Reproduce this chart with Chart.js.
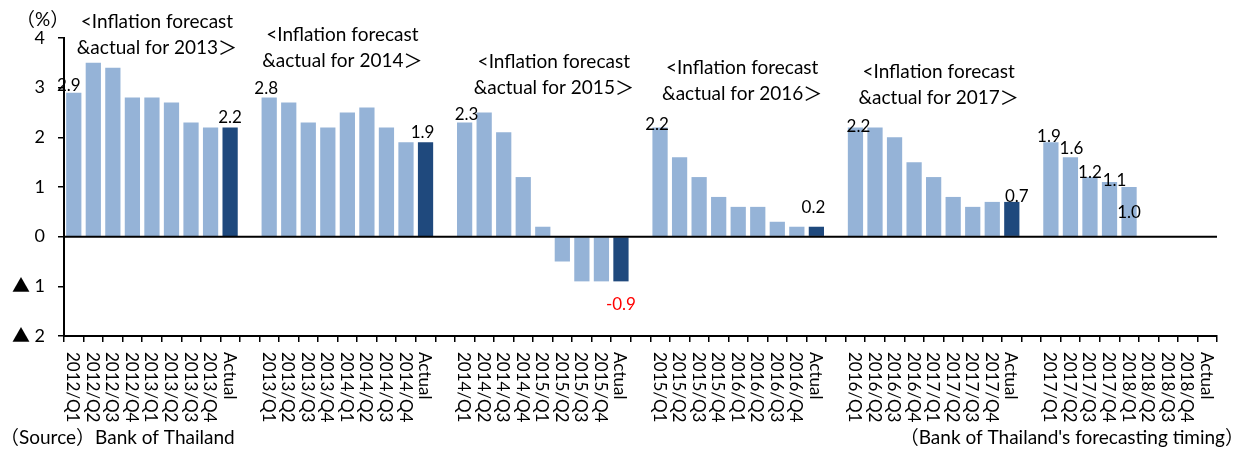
<!DOCTYPE html>
<html>
<head>
<meta charset="utf-8">
<script src="https://cdn.jsdelivr.net/npm/chart.js@4.4.1/dist/chart.umd.min.js"></script>
<style>
  html, body { margin: 0; padding: 0; background: #fff; }
  #wrap { width: 1248px; height: 451px; position: relative; }
</style>
</head>
<body>
<div id="wrap"><canvas id="c" width="1248" height="451"></canvas></div>
<script>
// ---- Data ----
const labels2013 = ['2012/Q1','2012/Q2','2012/Q3','2012/Q4','2013/Q1','2013/Q2','2013/Q3','2013/Q4','Actual'];
const labels2014 = ['2013/Q1','2013/Q2','2013/Q3','2013/Q4','2014/Q1','2014/Q2','2014/Q3','2014/Q4','Actual'];
const labels2015 = ['2014/Q1','2014/Q2','2014/Q3','2014/Q4','2015/Q1','2015/Q2','2015/Q3','2015/Q4','Actual'];
const labels2016 = ['2015/Q1','2015/Q2','2015/Q3','2015/Q4','2016/Q1','2016/Q2','2016/Q3','2016/Q4','Actual'];
const labels2017 = ['2016/Q1','2016/Q2','2016/Q3','2016/Q4','2017/Q1','2017/Q2','2017/Q3','2017/Q4','Actual'];
const labels2018 = ['2017/Q1','2017/Q2','2017/Q3','2017/Q4','2018/Q1','2018/Q2','2018/Q3','2018/Q4','Actual'];

const values2013 = [2.9, 3.5, 3.4, 2.8, 2.8, 2.7, 2.3, 2.2, 2.2];
const values2014 = [2.8, 2.7, 2.3, 2.2, 2.5, 2.6, 2.2, 1.9, 1.9];
const values2015 = [2.3, 2.5, 2.1, 1.2, 0.2, -0.5, -0.9, -0.9, -0.9];
const values2016 = [2.2, 1.6, 1.2, 0.8, 0.6, 0.6, 0.3, 0.2, 0.2];
const values2017 = [2.2, 2.2, 2.0, 1.5, 1.2, 0.8, 0.6, 0.7, 0.7];
const values2018 = [1.9, 1.6, 1.2, 1.1, 1.0, null, null, null, null];

const groupTitles = ['2013', '2014', '2015', '2016', '2017'];
const yTickValues = [-2, -1, 0, 1, 2, 3, 4];

// which bars in each group carry a value label
const labelled2013 = [0, 8];
const labelled2014 = [0, 8];
const labelled2015 = [0, 8];
const labelled2016 = [0, 8];
const labelled2017 = [0, 8];
const labelled2018 = [0, 1, 2, 3, 4];

// ---- Build flat arrays (blank category between groups) ----
const groupLabels = [labels2013, labels2014, labels2015, labels2016, labels2017, labels2018];
const groupValues = [values2013, values2014, values2015, values2016, values2017, values2018];
const groupLabelled = [labelled2013, labelled2014, labelled2015, labelled2016, labelled2017, labelled2018];

const categories = [];
const values = [];
const labelledIdx = [];
const groupStarts = [];
groupLabels.forEach((g, gi) => {
  if (gi > 0) { categories.push(''); values.push(null); }
  groupStarts.push(categories.length);
  const start = categories.length;
  g.forEach((l, i) => { categories.push(l); values.push(groupValues[gi][i]); });
  groupLabelled[gi].forEach(i => labelledIdx.push(start + i));
});

const LIGHT = '#95B3D7';
const DARK = '#1F497D';
const barColors = categories.map(c => c === 'Actual' ? DARK : LIGHT);

const FONT = "Lato, 'Noto Sans', 'Noto Sans CJK JP', sans-serif";
const CJK = "'Noto Sans CJK JP', sans-serif";
const FS = 17;
const FT = 19;

// per-label nudges (pixels) so labels sit as in the original
const labelNudge = {
  0: [-5, -7], 8: [0, -10], 10: [-3, -9], 18: [-3, -10], 20: [2, -8],
  28: [0, 23], 30: [-3, -3], 38: [-3, -19], 40: [3, -1], 48: [5, -5],
  50: [-2, -6], 51: [1, -9], 52: [0, -5], 53: [5, -2], 54: [0, 26]
};
const titleNudge = [[5, 22, 48], [-5, 35, 61], [11, 62, 88], [4, 68, 94], [5, 72, 98]];

function drawMixed(ctx, parts, x, y, align) {
  let total = 0;
  parts.forEach(p => { ctx.font = p[1]; total += ctx.measureText(p[0]).width; });
  let cx = align === 'right' ? x - total : (align === 'center' ? x - total / 2 : x);
  ctx.textAlign = 'left';
  parts.forEach(p => { ctx.font = p[1]; ctx.fillText(p[0], cx, y); cx += ctx.measureText(p[0]).width; });
}

const overlay = {
  id: 'overlay',
  afterDatasetsDraw(chart) {
    const ctx = chart.ctx;
    const x = chart.scales.x, y = chart.scales.y;
    const ca = chart.chartArea;
    ctx.save();
    // zero line
    const y0 = y.getPixelForValue(0);
    ctx.strokeStyle = '#000';
    ctx.lineWidth = 2;
    ctx.beginPath();
    ctx.moveTo(ca.left, y0);
    ctx.lineTo(ca.right, y0);
    ctx.stroke();

    // value labels
    ctx.font = FS + 'px ' + FONT;
    ctx.textAlign = 'center';
    ctx.textBaseline = 'middle';
    labelledIdx.forEach(i => {
      const v = values[i];
      if (v == null) return;
      const n = labelNudge[i] || [0, -9];
      const px = x.getPixelForValue(i) + n[0];
      const py = y.getPixelForValue(v) + n[1];
      ctx.fillStyle = v < 0 ? '#FF0000' : '#000';
      ctx.fillText(v.toFixed(1), px, py);
    });

    // group titles
    ctx.fillStyle = '#000';
    const fT = FT + 'px ' + FONT, fC = FT + 'px ' + CJK;
    groupTitles.forEach((t, gi) => {
      const cx = x.getPixelForValue(groupStarts[gi] + 4) + titleNudge[gi][0];
      drawMixed(ctx, [['<Inflation forecast', fT]], cx, titleNudge[gi][1], 'center');
      drawMixed(ctx, [['&actual for ' + t, fT], ['\uFF1E', fC]], cx, titleNudge[gi][2], 'center');
    });

    // rotated category labels (reading top to bottom)
    ctx.font = FS + 'px ' + FONT;
    categories.forEach((c, i) => {
      if (!c) return;
      const px = x.getPixelForValue(i);
      ctx.save();
      ctx.translate(px - 1, ca.bottom + 16);
      ctx.rotate(Math.PI / 2);
      ctx.textAlign = 'left';
      ctx.textBaseline = 'middle';
      ctx.fillText(c, 0, 0);
      ctx.restore();
    });

    // unit and notes
    drawMixed(ctx, [['\uFF08', fC], ['%', fT], ['\uFF09', fC]], 16, 20, 'left');
    drawMixed(ctx, [['\uFF08', fC], ['Source', fT], ['\uFF09', fC], ['Bank of Thailand', fT]], 0, 438, 'left');
    drawMixed(ctx, [['\uFF08', fC], ['Bank of Thailand\'s forecasting timing', fT], ['\uFF09', fC]], 1244, 438, 'right');
    ctx.restore();
  }
};

new Chart(document.getElementById('c'), {
  type: 'bar',
  data: {
    labels: categories,
    datasets: [{
      data: values,
      backgroundColor: barColors,
      borderWidth: 0,
      barPercentage: 0.78,
      categoryPercentage: 1.0
    }]
  },
  options: {
    responsive: false,
    animation: false,
    events: [],
    layout: { padding: { top: 38, right: 31, left: 0, bottom: 0 } },
    plugins: { legend: { display: false }, tooltip: { enabled: false } },
    scales: {
      x: {
        grid: { offset: true, drawOnChartArea: false, drawTicks: true, tickLength: 6, color: '#000', lineWidth: 1.5 },
        border: { color: '#000', width: 2 },
        ticks: { display: false },
        afterFit(s) { s.height = 115; }
      },
      y: {
        min: -2, max: 4,
        afterBuildTicks(s) { s.ticks = yTickValues.map(v => ({ value: v })); },
        ticks: {
          color: '#000',
          padding: 13,
          font: { family: FONT, size: 18 },
          callback: v => v < 0 ? '\u25B2 ' + (-v) : String(v)
        },
        grid: { drawOnChartArea: false, drawTicks: true, tickLength: 6, color: '#000', lineWidth: 1.5 },
        border: { color: '#000', width: 2 },
        afterFit(s) { s.width = 64; }
      }
    }
  },
  plugins: [overlay]
});
</script>
</body>
</html>
